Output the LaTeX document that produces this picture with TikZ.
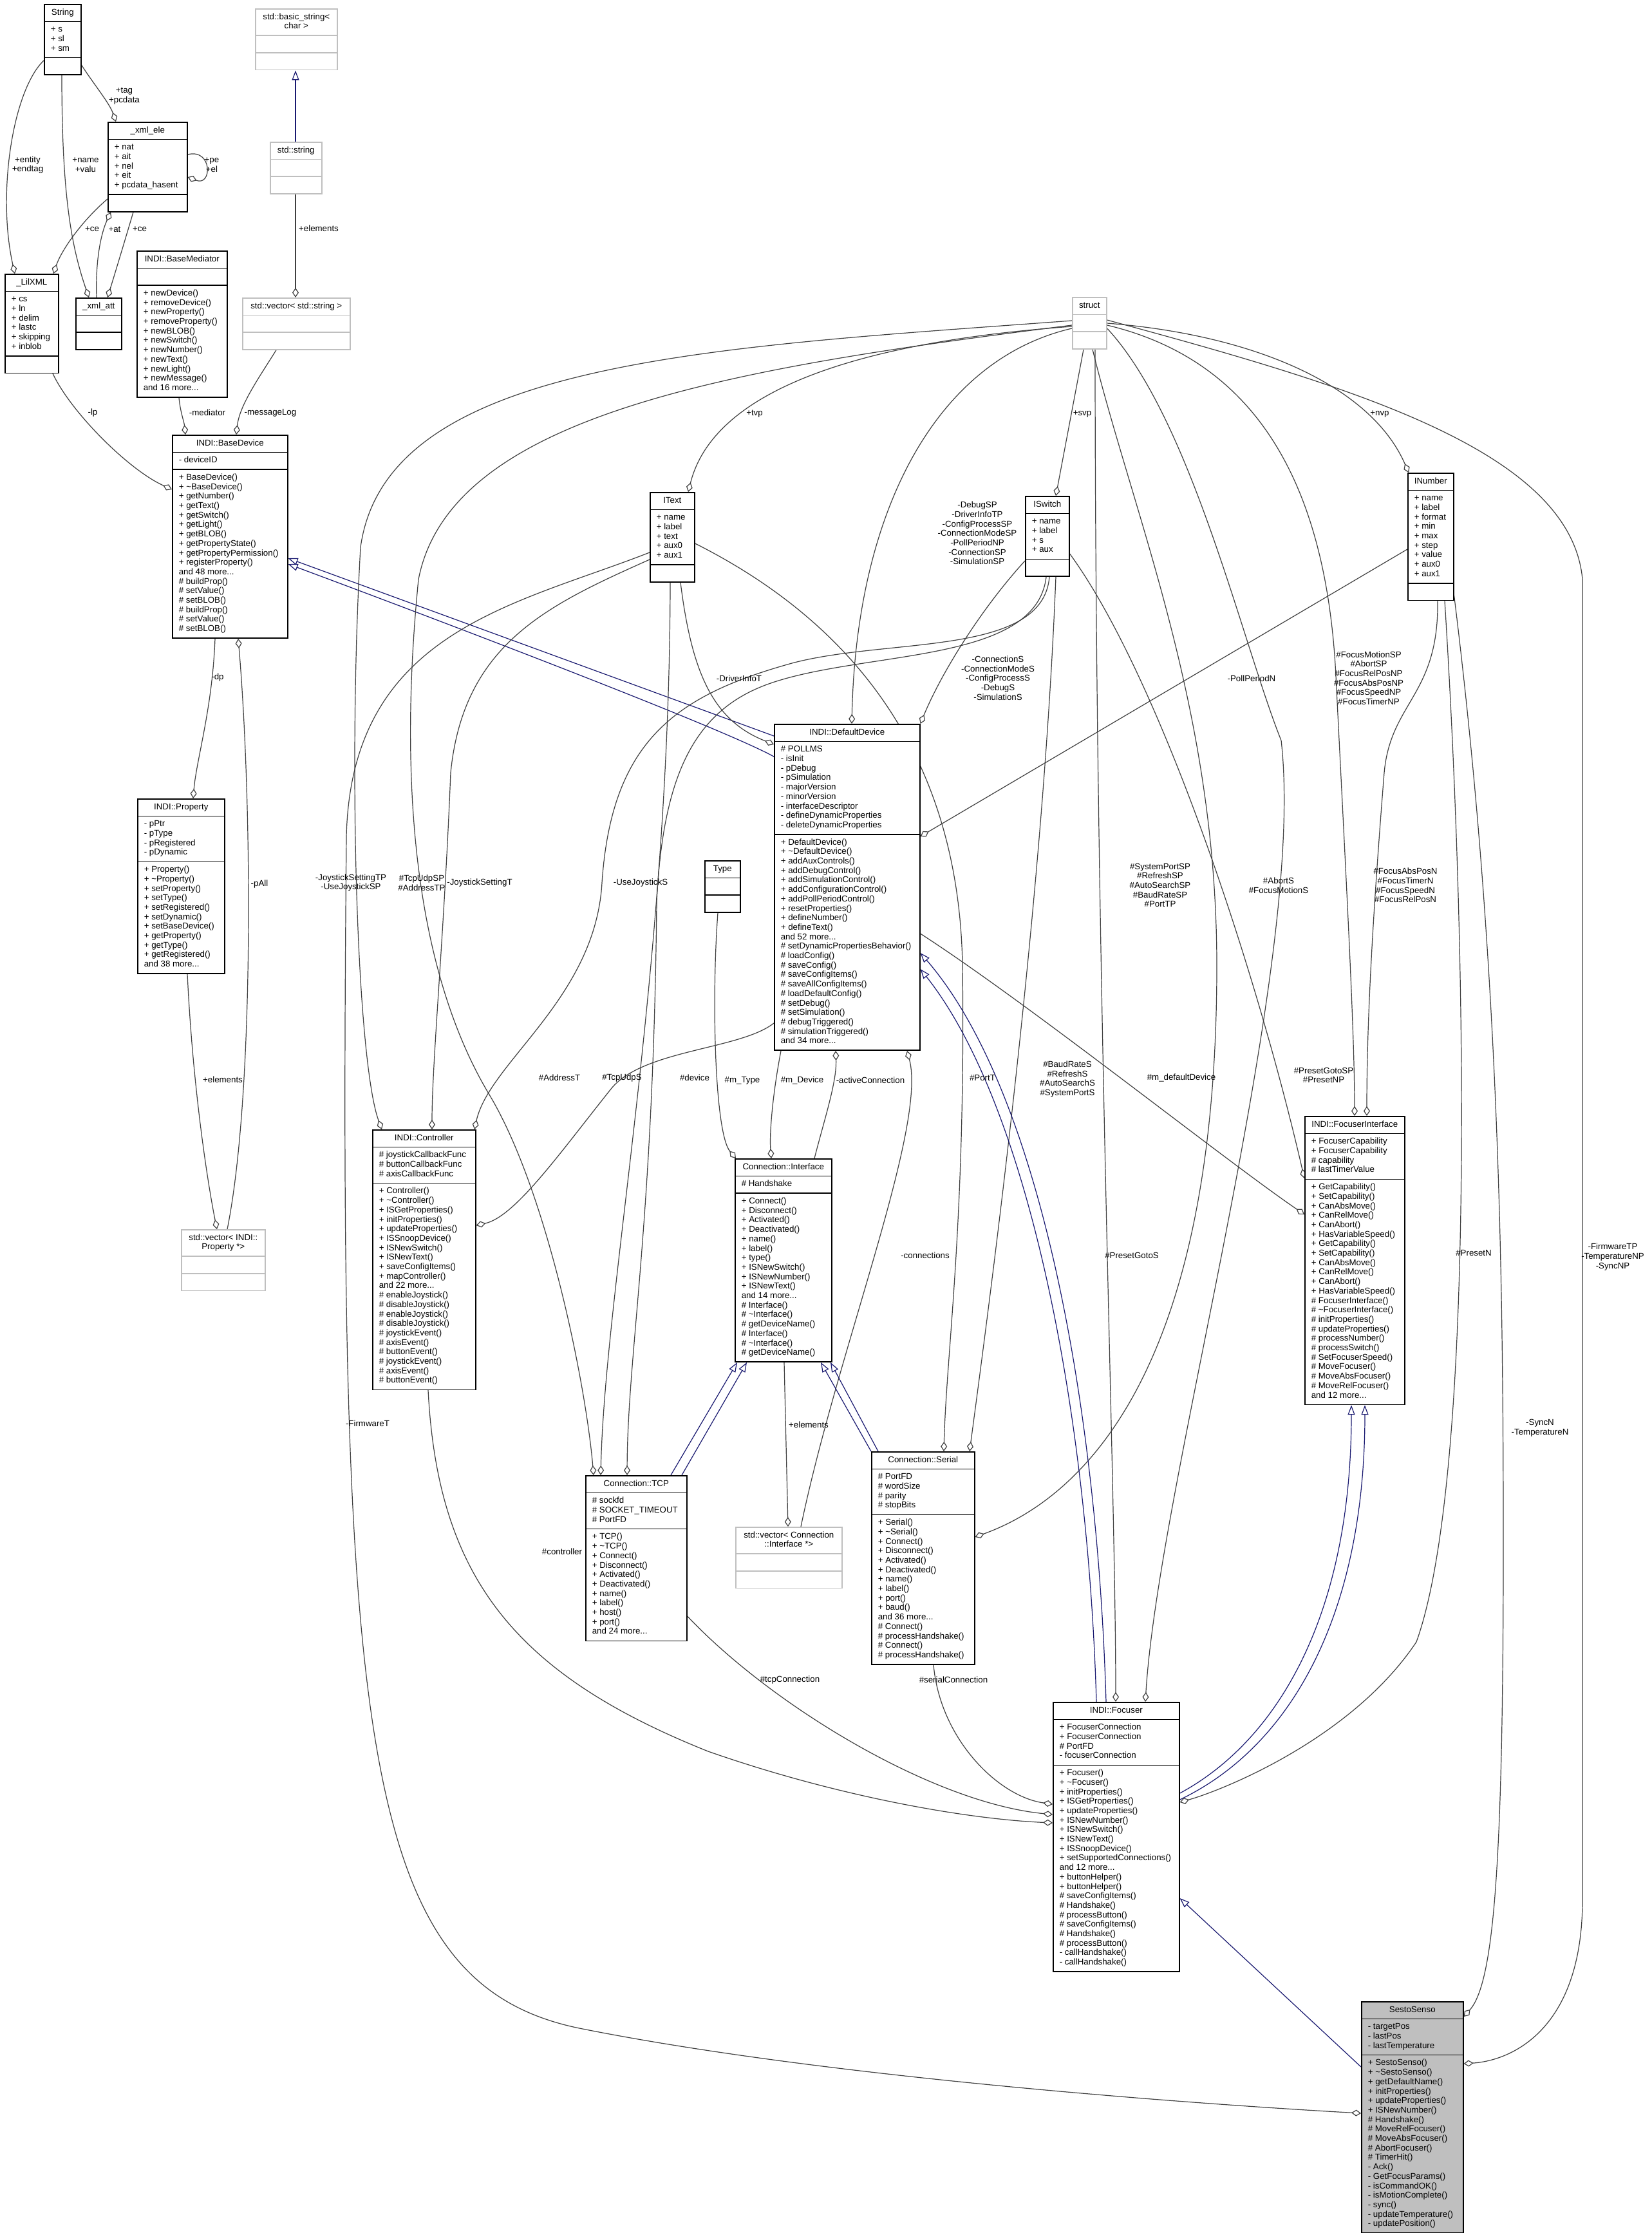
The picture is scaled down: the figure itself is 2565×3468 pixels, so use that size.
\documentclass[tikz,border=0pt]{standalone}
\usepackage{fontspec}
\setmainfont{Liberation Sans}
\usetikzlibrary{shapes.multipart,arrows.meta,backgrounds}
\definecolor{edgegray}{HTML}{404040}
\definecolor{inhblue}{HTML}{191970}
\definecolor{extgray}{HTML}{BFBFBF}

\begin{document}
\begin{tikzpicture}[x=1pt,y=-1pt,
  cls/.style={rectangle split,rectangle split parts=3,rectangle split part align={center,left,left},
    draw=black,fill=white,line width=1.6pt,anchor=north west,align=left,inner xsep=10pt,inner ysep=5.2pt,
    font=\fontsize{13.3}{14.7}\selectfont},
  ext/.style={cls,draw=extgray},
  hl/.style={cls,fill=extgray},
  aggr/.style={draw=edgegray,line width=1.2pt,-{Diamond[open,length=15pt,width=10pt]}},
  inh/.style={draw=inhblue,line width=1.2pt,-{Triangle[open,length=15pt,width=11pt]}},
  lbl/.style={font=\fontsize{13.3}{14.7}\selectfont,align=center,inner sep=0pt}]
\useasboundingbox (0,0) rectangle (2565,3468);

% classes
\node[cls,minimum width=57] (str) at (68,6) {\strut String\nodepart{second}\strut+ s\\+ sl\\+ sm\strut\nodepart{third}\strut};
\node[cls,minimum width=123] (xele) at (167,189) {\strut\_xml\_ele\nodepart{second}\strut+ nat\\+ ait\\+ nel\\+ eit\\+ pcdata\_hasent\strut\nodepart{third}\strut};
\node[cls,minimum width=83] (lixml) at (7,425) {\strut\_LilXML\nodepart{second}\strut+ cs\\+ ln\\+ delim\\+ lastc\\+ skipping\\+ inblob\strut\nodepart{third}\strut};
\node[cls,minimum width=71] (xatt) at (117,462) {\strut\_xml\_att\nodepart{second}\strut\nodepart{third}\strut};
\node[cls,minimum width=140] (mediator) at (212,389) {\strut INDI::BaseMediator\nodepart{second}\strut\nodepart{third}\strut+ newDevice()\\+ removeDevice()\\+ newProperty()\\+ removeProperty()\\+ newBLOB()\\+ newSwitch()\\+ newNumber()\\+ newText()\\+ newLight()\\+ newMessage()\\and 16 more...\strut};
\node[ext,minimum width=127] (bstr) at (396,13) {\begin{tabular}{@{}c@{}}std::basic\_string<\\char >\end{tabular}\nodepart{second}\strut\nodepart{third}\strut};
\node[ext,minimum width=80] (stdstr) at (419,220) {\strut std::string\nodepart{second}\strut\nodepart{third}\strut};
\node[ext,minimum width=167] (vecstr) at (376,462) {\strut std::vector< std::string >\nodepart{second}\strut\nodepart{third}\strut};
\node[cls,minimum width=179] (basedev) at (267,675) {\strut INDI::BaseDevice\nodepart{second}\strut- deviceID\strut\nodepart{third}\strut+ BaseDevice()\\+ \textasciitilde BaseDevice()\\+ getNumber()\\+ getText()\\+ getSwitch()\\+ getLight()\\+ getBLOB()\\+ getPropertyState()\\+ getPropertyPermission()\\+ registerProperty()\\and 48 more...\\\# buildProp()\\\# setValue()\\\# setBLOB()\\\# buildProp()\\\# setValue()\\\# setBLOB()\strut};
\node[cls,minimum width=135] (prop) at (213,1240) {\strut INDI::Property\nodepart{second}\strut- pPtr\\- pType\\- pRegistered\\- pDynamic\strut\nodepart{third}\strut+ Property()\\+ \textasciitilde Property()\\+ setProperty()\\+ setType()\\+ setRegistered()\\+ setDynamic()\\+ setBaseDevice()\\+ getProperty()\\+ getType()\\+ getRegistered()\\and 38 more...\strut};
\node[ext,minimum width=130] (vecprop) at (281,1909) {\begin{tabular}{@{}c@{}}std::vector< INDI::\\Property *>\end{tabular}\nodepart{second}\strut\nodepart{third}\strut};
\node[ext,minimum width=53] (structn) at (1665,461) {\strut struct\nodepart{second}\strut\nodepart{third}\strut};
\node[cls,minimum width=69] (itext) at (1009,764) {\strut IText\nodepart{second}\strut+ name\\+ label\\+ text\\+ aux0\\+ aux1\strut\nodepart{third}\strut};
\node[cls,minimum width=68] (iswitch) at (1592,770) {\strut ISwitch\nodepart{second}\strut+ name\\+ label\\+ s\\+ aux\strut\nodepart{third}\strut};
\node[cls,minimum width=70] (inumber) at (2186,734) {\strut INumber\nodepart{second}\strut+ name\\+ label\\+ format\\+ min\\+ max\\+ step\\+ value\\+ aux0\\+ aux1\strut\nodepart{third}\strut};
\node[cls,minimum width=226] (defdev) at (1202,1124) {\strut INDI::DefaultDevice\nodepart{second}\strut\# POLLMS\\- isInit\\- pDebug\\- pSimulation\\- majorVersion\\- minorVersion\\- interfaceDescriptor\\- defineDynamicProperties\\- deleteDynamicProperties\strut\nodepart{third}\strut+ DefaultDevice()\\+ \textasciitilde DefaultDevice()\\+ addAuxControls()\\+ addDebugControl()\\+ addSimulationControl()\\+ addConfigurationControl()\\+ addPollPeriodControl()\\+ resetProperties()\\+ defineNumber()\\+ defineText()\\and 52 more...\\\# setDynamicPropertiesBehavior()\\\# loadConfig()\\\# saveConfig()\\\# saveConfigItems()\\\# saveAllConfigItems()\\\# loadDefaultConfig()\\\# setDebug()\\\# setSimulation()\\\# debugTriggered()\\\# simulationTriggered()\\and 34 more...\strut};
\node[cls,minimum width=55] (type) at (1094,1336) {\strut Type\nodepart{second}\strut\nodepart{third}\strut};
\node[cls,minimum width=160] (ctrl) at (578,1754) {\strut INDI::Controller\nodepart{second}\strut\# joystickCallbackFunc\\\# buttonCallbackFunc\\\# axisCallbackFunc\strut\nodepart{third}\strut+ Controller()\\+ \textasciitilde Controller()\\+ ISGetProperties()\\+ initProperties()\\+ updateProperties()\\+ ISSnoopDevice()\\+ ISNewSwitch()\\+ ISNewText()\\+ saveConfigItems()\\+ mapController()\\and 22 more...\\\# enableJoystick()\\\# disableJoystick()\\\# enableJoystick()\\\# disableJoystick()\\\# joystickEvent()\\\# axisEvent()\\\# buttonEvent()\\\# joystickEvent()\\\# axisEvent()\\\# buttonEvent()\strut};
\node[cls,minimum width=150] (iface) at (1141,1799) {\strut Connection::Interface\nodepart{second}\strut\# Handshake\strut\nodepart{third}\strut+ Connect()\\+ Disconnect()\\+ Activated()\\+ Deactivated()\\+ name()\\+ label()\\+ type()\\+ ISNewSwitch()\\+ ISNewNumber()\\+ ISNewText()\\and 14 more...\\\# Interface()\\\# \textasciitilde Interface()\\\# getDeviceName()\\\# Interface()\\\# \textasciitilde Interface()\\\# getDeviceName()\strut};
\node[cls,minimum width=157] (tcp) at (909,2291) {\strut Connection::TCP\nodepart{second}\strut\# sockfd\\\# SOCKET\_TIMEOUT\\\# PortFD\strut\nodepart{third}\strut+ TCP()\\+ \textasciitilde TCP()\\+ Connect()\\+ Disconnect()\\+ Activated()\\+ Deactivated()\\+ name()\\+ label()\\+ host()\\+ port()\\and 24 more...\strut};
\node[ext,minimum width=165] (vecconn) at (1142,2371) {\begin{tabular}{@{}c@{}}std::vector< Connection\\::Interface *>\end{tabular}\nodepart{second}\strut\nodepart{third}\strut};
\node[cls,minimum width=160] (serial) at (1353,2254) {\strut Connection::Serial\nodepart{second}\strut\# PortFD\\\# wordSize\\\# parity\\\# stopBits\strut\nodepart{third}\strut+ Serial()\\+ \textasciitilde Serial()\\+ Connect()\\+ Disconnect()\\+ Activated()\\+ Deactivated()\\+ name()\\+ label()\\+ port()\\+ baud()\\and 36 more...\\\# Connect()\\\# processHandshake()\\\# Connect()\\\# processHandshake()\strut};
\node[cls,minimum width=155] (focif) at (2026,1733) {\strut INDI::FocuserInterface\nodepart{second}\strut+ FocuserCapability\\+ FocuserCapability\\\# capability\\\# lastTimerValue\strut\nodepart{third}\strut+ GetCapability()\\+ SetCapability()\\+ CanAbsMove()\\+ CanRelMove()\\+ CanAbort()\\+ HasVariableSpeed()\\+ GetCapability()\\+ SetCapability()\\+ CanAbsMove()\\+ CanRelMove()\\+ CanAbort()\\+ HasVariableSpeed()\\\# FocuserInterface()\\\# \textasciitilde FocuserInterface()\\\# initProperties()\\\# updateProperties()\\\# processNumber()\\\# processSwitch()\\\# SetFocuserSpeed()\\\# MoveFocuser()\\\# MoveAbsFocuser()\\\# MoveRelFocuser()\\and 12 more...\strut};
\node[cls,minimum width=196] (focuser) at (1635,2643) {\strut INDI::Focuser\nodepart{second}\strut+ FocuserConnection\\+ FocuserConnection\\\# PortFD\\- focuserConnection\strut\nodepart{third}\strut+ Focuser()\\+ \textasciitilde Focuser()\\+ initProperties()\\+ ISGetProperties()\\+ updateProperties()\\+ ISNewNumber()\\+ ISNewSwitch()\\+ ISNewText()\\+ ISSnoopDevice()\\+ setSupportedConnections()\\and 12 more...\\+ buttonHelper()\\+ buttonHelper()\\\# saveConfigItems()\\\# Handshake()\\\# processButton()\\\# saveConfigItems()\\\# Handshake()\\\# processButton()\\- callHandshake()\\- callHandshake()\strut};
\node[hl,minimum width=158] (sesto) at (2114,3108) {\strut SestoSenso\nodepart{second}\strut- targetPos\\- lastPos\\- lastTemperature\strut\nodepart{third}\strut+ SestoSenso()\\+ \textasciitilde SestoSenso()\\+ getDefaultName()\\+ initProperties()\\+ updateProperties()\\+ ISNewNumber()\\\# Handshake()\\\# MoveRelFocuser()\\\# MoveAbsFocuser()\\\# AbortFocuser()\\\# TimerHit()\\- Ack()\\- GetFocusParams()\\- isCommandOK()\\- isMotionComplete()\\- sync()\\- updateTemperature()\\- updatePosition()\strut};

\begin{pgfonlayer}{background}
\fill[white] (0,0) rectangle (2565,3468);
% xml helpers
\draw[aggr]([shift={(0,88)}]str.north west) .. controls (20,140) and (-5,300) .. ([shift={(16,0)}]lixml.north west);
\draw[aggr]([shift={(28,0)}]str.south west) .. controls (96,300) and (110,380) .. ([shift={(21,0)}]xatt.north west);
\draw[aggr]([shift={(0,95)}]str.north east) .. controls (145,130) and (170,160) .. ([shift={(13,0)}]xele.north west);
\draw[aggr]([shift={(0,51)}]xele.north east) .. controls (330,230) and (330,290) .. ([shift={(0,86)}]xele.north east);
\draw[aggr]([shift={(0,120)}]xele.north west) .. controls (125,345) and (95,390) .. ([shift={(76,0)}]lixml.north west);
\draw[aggr]([shift={(33,0)}]xatt.north west) .. controls (148,400) and (158,360) .. ([shift={(5,0)}]xele.south west);
\draw[aggr]([shift={(40,0)}]xele.south west) .. controls (195,370) and (180,420) .. ([shift={(50,0)}]xatt.north west);
\draw[aggr]([shift={(75,0)}]lixml.south west) .. controls (110,640) and (200,730) .. ([shift={(0,85)}]basedev.north west);
\draw[inh]([shift={(40,0)}]stdstr.north west) -- ([shift={(63,0)}]bstr.south west);
\draw[aggr]([shift={(40,0)}]stdstr.south west) -- ([shift={(83,0)}]vecstr.north west);
\draw[aggr]([shift={(53,0)}]vecstr.south west) .. controls (400,590) and (372,630) .. ([shift={(100,0)}]basedev.north west);
\draw[aggr]([shift={(66,0)}]mediator.south west) .. controls (280,640) and (286,655) .. ([shift={(21,0)}]basedev.north west);
\draw[aggr]([shift={(67,0)}]basedev.south west) .. controls (330,1100) and (305,1180) .. ([shift={(87,0)}]prop.north west);
\draw[aggr]([shift={(78,0)}]prop.south west) .. controls (300,1700) and (325,1850) .. ([shift={(56,0)}]vecprop.north west);
\draw[aggr]([shift={(72,0)}]vecprop.north west) .. controls (395,1700) and (392,1250) .. ([shift={(103,0)}]basedev.south west);
\draw[inh]([shift={(0,19)}]defdev.north west) -- ([shift={(0,192)}]basedev.north east);
\draw[inh]([shift={(0,51)}]defdev.north west) .. controls (1120,1130) and (700,970) .. ([shift={(0,201)}]basedev.north east);
% struct
\draw[aggr]([shift={(0,46)}]structn.north west) .. controls (1350,530) and (1110,600) .. ([shift={(60,0)}]itext.north west);
\draw[aggr]([shift={(18,0)}]structn.south west) -- ([shift={(48,0)}]iswitch.north west);
\draw[aggr]([shift={(0,41)}]structn.north east) .. controls (1950,520) and (2130,600) .. ([shift={(2,0)}]inumber.north west);
\draw[aggr]([shift={(0,49)}]structn.north west) .. controls (1450,560) and (1330,800) .. ([shift={(121,0)}]defdev.north west);
\draw[aggr]([shift={(0,37)}]structn.north west) .. controls (1100,540) and (600,560) .. (560,850) .. controls (540,1200) and (555,1650) .. ([shift={(15,0)}]ctrl.north west);
\draw[aggr]([shift={(0,44)}]structn.north west) .. controls (1150,570) and (700,640) .. (650,900) .. controls (620,1200) and (640,1500) .. (760,1700) .. controls (850,1850) and (910,2150) .. ([shift={(13,0)}]tcp.north west);
\draw[aggr]([shift={(32,0)}]structn.south west) .. controls (1760,800) and (1890,1100) .. (1890,1500) .. controls (1890,2100) and (1700,2320) .. ([shift={(0,133)}]serial.north east);
\draw[aggr]([shift={(0,44)}]structn.north east) .. controls (1950,560) and (2060,750) .. (2075,1050) .. controls (2090,1350) and (2104,1600) .. ([shift={(78,0)}]focif.north west);
\draw[aggr]([shift={(0,49)}]structn.north east) .. controls (1850,650) and (1930,1000) .. (1990,1150) .. controls (2030,1500) and (1800,2300) .. ([shift={(144,0)}]focuser.north west);
\draw[aggr]([shift={(36,0)}]structn.south west) .. controls (1701,1500) and (1733,2300) .. ([shift={(98,0)}]focuser.north west);
\draw[aggr]([shift={(0,36)}]structn.north east) .. controls (2100,600) and (2440,700) .. (2458,900) -- (2458,2950) .. controls (2458,3150) and (2350,3200) .. ([shift={(0,97)}]sesto.north east);
% ISwitch
\draw[aggr]([shift={(0,101)}]iswitch.north west) .. controls (1520,950) and (1460,1050) .. (defdev.north east);
\draw[aggr]([shift={(38,0)}]iswitch.south west) .. controls (1620,1020) and (1380,990) .. (1230,1030) .. controls (1050,1080) and (950,1150) .. (935,1371) .. controls (925,1550) and (760,1650) .. ([shift={(159,0)}]ctrl.north west);
\draw[aggr]([shift={(33,0)}]iswitch.south west) .. controls (1610,1030) and (1350,1010) .. (1200,1060) .. controls (1080,1100) and (1030,1200) .. (1020,1400) .. controls (1015,1900) and (975,2100) .. ([shift={(65,0)}]tcp.north west);
\draw[aggr]([shift={(48,0)}]iswitch.south west) .. controls (1620,1400) and (1540,2000) .. ([shift={(153,0)}]serial.north west);
\draw[aggr]([shift={(0,90)}]iswitch.north east) .. controls (1800,1050) and (1950,1500) .. ([shift={(0,97)}]focif.north west);
% IText
\draw[aggr]([shift={(48,0)}]itext.south west) .. controls (1075,1050) and (1110,1120) .. ([shift={(0,32)}]defdev.north west);
\draw[aggr]([shift={(0,105)}]itext.north west) .. controls (850,940) and (720,1000) .. (700,1200) .. controls (690,1450) and (671,1650) .. ([shift={(93,0)}]ctrl.north west);
\draw[aggr]([shift={(32,0)}]itext.south west) .. controls (1040,1500) and (940,2000) .. ([shift={(24,0)}]tcp.north west);
\draw[aggr]([shift={(0,80)}]itext.north east) .. controls (1350,980) and (1490,1200) .. (1495,1500) .. controls (1500,1900) and (1470,2100) .. ([shift={(113,0)}]serial.north west);
\draw[aggr]([shift={(0,94)}]itext.north west) .. controls (800,940) and (545,980) .. (538,1300) .. controls (525,2700) and (560,3080) .. (900,3150) .. controls (1300,3230) and (1900,3270) .. ([shift={(0,174)}]sesto.north west);
% INumber
\draw[aggr]([shift={(0,119)}]inumber.north west) -- ([shift={(0,175)}]defdev.north east);
\draw[aggr]([shift={(47,0)}]inumber.south west) .. controls (2235,1080) and (2160,1090) .. (2150,1200) .. controls (2130,1450) and (2123,1600) .. ([shift={(97,0)}]focif.north west);
\draw[aggr]([shift={(58,0)}]inumber.south west) .. controls (2280,1500) and (2290,2300) .. (2200,2550) .. controls (2100,2700) and (1900,2780) .. ([shift={(0,156)}]focuser.north east);
\draw[aggr]([shift={(0,-8)}]inumber.south east) .. controls (2330,1500) and (2335,2000) .. (2335,2400) .. controls (2335,2900) and (2320,3080) .. ([shift={(0,24)}]sesto.north east);
% DefaultDevice and connections
\draw[aggr]([shift={(0,326)}]defdev.north east) .. controls (1600,1560) and (1900,1800) .. ([shift={(0,153)}]focif.north west);
\draw[aggr]([shift={(21,0)}]type.south west) .. controls (1105,1550) and (1110,1760) .. ([shift={(2,0)}]iface.north west);
\draw[aggr]([shift={(11,0)}]defdev.south west) .. controls (1200,1700) and (1195,1760) .. ([shift={(57,0)}]iface.north west);
\draw[aggr]([shift={(124,0)}]iface.north west) .. controls (1280,1740) and (1300,1680) .. ([shift={(96,0)}]defdev.south west);
\draw[aggr]([shift={(102,0)}]vecconn.north west) .. controls (1300,2100) and (1440,1750) .. ([shift={(207,0)}]defdev.south west);
\draw[aggr]([shift={(77,0)}]iface.south west) -- ([shift={(82,0)}]vecconn.north west);
\draw[aggr]([shift={(0,465)}]defdev.north west) .. controls (1150,1630) and (1000,1630) .. (950,1690) .. controls (870,1790) and (800,1890) .. ([shift={(0,149)}]ctrl.north east);
\draw[aggr]([shift={(87,0)}]ctrl.south west) .. controls (680,2450) and (800,2600) .. (1100,2720) .. controls (1300,2790) and (1500,2825) .. ([shift={(0,188)}]focuser.north west);
\draw[aggr]([shift={(0,219)}]tcp.north east) .. controls (1200,2650) and (1450,2800) .. ([shift={(0,175)}]focuser.north west);
\draw[aggr]([shift={(97,0)}]serial.south west) .. controls (1460,2700) and (1550,2790) .. ([shift={(0,159)}]focuser.north west);
% inheritance
\draw[inh]([shift={(133,0)}]tcp.north west) -- ([shift={(4,0)}]iface.south west);
\draw[inh]([shift={(150,0)}]tcp.north west) -- ([shift={(19,0)}]iface.south west);
\draw[inh](serial.north west) -- ([shift={(134,0)}]iface.south west);
\draw[inh]([shift={(11,0)}]serial.north west) -- ([shift={(149,0)}]iface.south west);
\draw[inh]([shift={(83,0)}]focuser.north west) .. controls (1705,2200) and (1620,1700) .. ([shift={(0,356)}]defdev.north east);
\draw[inh]([shift={(68,0)}]focuser.north west) .. controls (1690,2200) and (1600,1720) .. ([shift={(0,381)}]defdev.north east);
\draw[inh]([shift={(0,142)}]focuser.north east) .. controls (1990,2700) and (2099,2500) .. ([shift={(73,0)}]focif.south west);
\draw[inh]([shift={(0,152)}]focuser.north east) .. controls (2010,2710) and (2120,2500) .. ([shift={(94,0)}]focif.south west);
\draw[inh]([shift={(0,102)}]sesto.north west) -- ([shift={(0,305)}]focuser.north east);
\end{pgfonlayer}

% labels
\foreach \x/\y/\t [count=\i] in {178/356/+at,143/356/+ce,217/356/+ce,495/355/+elements,144/641/-lp,
  322/641/-mediator,420/641/-messageLog,338/1052/-dp,403/1373/-pAll,346/1677/+elements,1172/643/+tvp,
  1681/643/+svp,2143/643/+nvp,1148/1054/-DriverInfoT,1944/1054/-PollPeriodN,745/1371/-JoystickSettingT,
  995/1371/-UseJoystickS,869/1674/\#AddressT,966/1674/\#TcpUdpS,1079/1674/\#device,1153/1678/\#m\_Type,
  1246/1678/\#m\_Device,1352/1678/-activeConnection,1526/1674/\#PortT,1835/1674/\#m\_defaultDevice,
  2289/1946/\#PresetN,1758/1950/\#PresetGotoS,1437/1950/-connections,571/2211/-FirmwareT,
  1256/2213/+elements,873/2410/\#controller,1227/2609/\#tcpConnection,1481/2609/\#serialConnection}
  \node[lbl] (lab\i) at (\x,\y) {\t};
\node[lbl] (entity) at (43,256) {+entity\\+endtag};
\node[lbl] (namevalu) at (133,256) {+name\\+valu};
\node[lbl] (tagpc) at (193,149) {+tag\\+pcdata};
\node[lbl] (peel) at (329,256) {+pe\\+el};
\node[lbl] (ddsp) at (1518,828) {-DebugSP\\-DriverInfoTP\\-ConfigProcessSP\\-ConnectionModeSP\\-PollPeriodNP\\-ConnectionSP\\-SimulationSP};
\node[lbl] (dds) at (1550,1053) {-ConnectionS\\-ConnectionModeS\\-ConfigProcessS\\-DebugS\\-SimulationS};
\node[lbl] (fisp) at (2126,1053) {\#FocusMotionSP\\\#AbortSP\\\#FocusRelPosNP\\\#FocusAbsPosNP\\\#FocusSpeedNP\\\#FocusTimerNP};
\node[lbl] (joysp) at (545,1371) {-JoystickSettingTP\\-UseJoystickSP};
\node[lbl] (tcpsp) at (655,1371) {\#TcpUdpSP\\\#AddressTP};
\node[lbl] (sersp) at (1802,1375) {\#SystemPortSP\\\#RefreshSP\\\#AutoSearchSP\\\#BaudRateSP\\\#PortTP};
\node[lbl] (fis) at (1986,1375) {\#AbortS\\\#FocusMotionS};
\node[lbl] (fin) at (2183,1375) {\#FocusAbsPosN\\\#FocusTimerN\\\#FocusSpeedN\\\#FocusRelPosN};
\node[lbl] (sers) at (1658,1676) {\#BaudRateS\\\#RefreshS\\\#AutoSearchS\\\#SystemPortS};
\node[lbl] (presp) at (2056,1670) {\#PresetGotoSP\\\#PresetNP};
\node[lbl] (sestp) at (2505,1952) {-FirmwareTP\\-TemperatureNP\\-SyncNP};
\node[lbl] (sestn) at (2392,2218) {-SyncN\\-TemperatureN};
\end{tikzpicture}
\end{document}
